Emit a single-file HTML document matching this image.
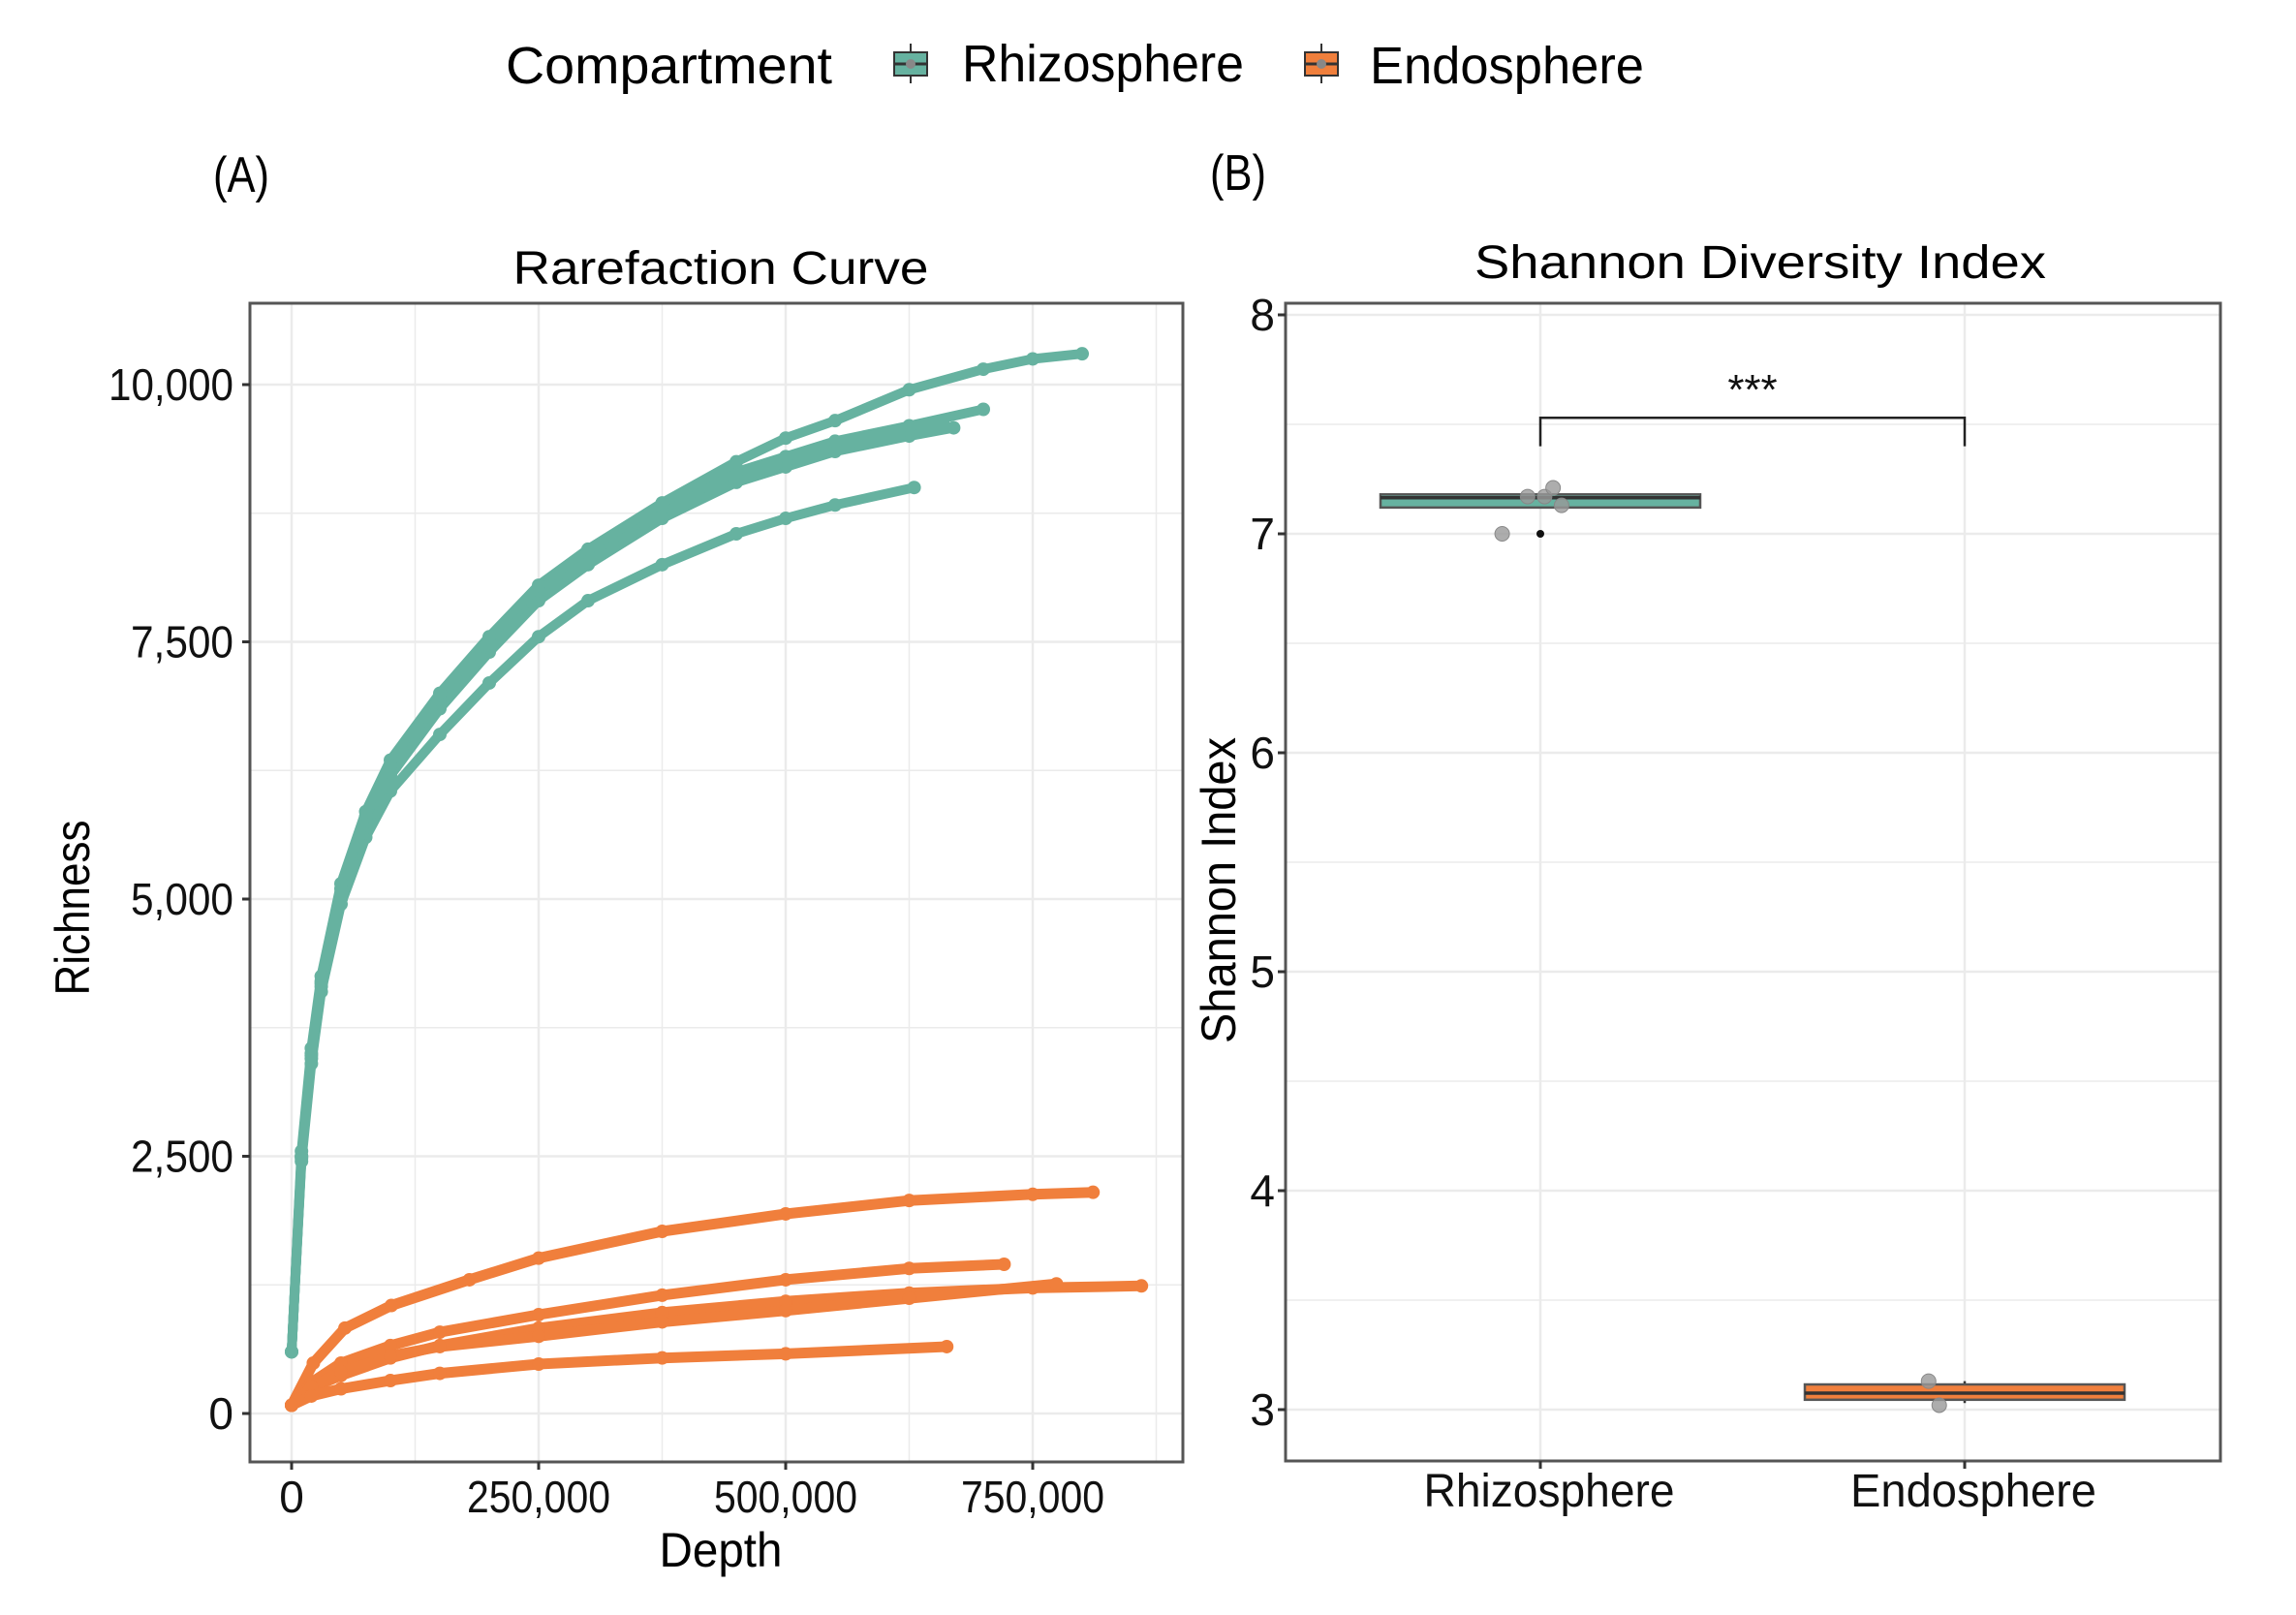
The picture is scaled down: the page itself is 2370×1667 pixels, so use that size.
<!DOCTYPE html>
<html><head><meta charset="utf-8"><style>
html,body{margin:0;padding:0;background:#fff;}
svg{display:block;font-family:"Liberation Sans",sans-serif;}
</style></head><body>
<svg id="chart" width="2370" height="1667" viewBox="0 0 2370 1667" xmlns="http://www.w3.org/2000/svg">
<g>
  <text x="522" y="86" font-size="54" textLength="337" lengthAdjust="spacingAndGlyphs">Compartment</text>
  <g>
    <line x1="940" y1="45" x2="940" y2="86" stroke="#333" stroke-width="2"/>
    <rect x="923" y="54" width="34" height="24" fill="#66b2a0" stroke="#333" stroke-width="2"/>
    <line x1="923" y1="66" x2="957" y2="66" stroke="#333" stroke-width="3"/>
    <circle cx="940" cy="66" r="5" fill="#888"/>
  </g>
  <text x="993" y="84" font-size="54" textLength="291" lengthAdjust="spacingAndGlyphs">Rhizosphere</text>
  <g>
    <line x1="1364" y1="45" x2="1364" y2="86" stroke="#333" stroke-width="2"/>
    <rect x="1347" y="54" width="34" height="24" fill="#f07f3c" stroke="#333" stroke-width="2"/>
    <line x1="1347" y1="66" x2="1381" y2="66" stroke="#333" stroke-width="3"/>
    <circle cx="1364" cy="66" r="5" fill="#888"/>
  </g>
  <text x="1414" y="86" font-size="54" textLength="283" lengthAdjust="spacingAndGlyphs">Endosphere</text>
</g>
<text x="220" y="198" font-size="52" textLength="58" lengthAdjust="spacingAndGlyphs">(A)</text>
<text x="1249" y="196" font-size="52" textLength="58" lengthAdjust="spacingAndGlyphs">(B)</text>
<text x="744" y="293" font-size="48" text-anchor="middle" textLength="429" lengthAdjust="spacingAndGlyphs">Rarefaction Curve</text>
<text x="1817" y="287" font-size="48" text-anchor="middle" textLength="590" lengthAdjust="spacingAndGlyphs">Shannon Diversity Index</text>
<g id="panelA"></g>
<g id="panelB"></g>
</svg>
<script>
// ---------- Panel A data ----------
const xTicksA = [0, 250000, 500000, 750000];
const xTickLabelsA = ["0", "250,000", "500,000", "750,000"];
const yTicksA = [0, 2500, 5000, 7500, 10000];
const yTickLabelsA = ["0", "2,500", "5,000", "7,500", "10,000"];
const rhizoDepth1 = [0,10000,20000,30000,50000,75000,100000,150000,200000,250000,300000,375000,450000,500000,550000,625000,700000,750000,800000];
const rhizoRich1  = [600,2550,3550,4250,5150,5850,6350,7000,7550,8050,8400,8850,9250,9480,9650,9950,10150,10250,10300];
const rhizoDepth2 = [0,10000,20000,30000,50000,75000,100000,150000,200000,250000,300000,375000,450000,500000,550000,625000,700000];
const rhizoRich2  = [600,2500,3500,4200,5100,5800,6300,6950,7500,8000,8350,8800,9150,9300,9450,9600,9760];
const rhizoDepth3 = [0,10000,20000,30000,50000,75000,100000,150000,200000,250000,300000,375000,450000,500000,550000,625000,660000];
const rhizoRich3  = [600,2500,3480,4180,5050,5750,6250,6900,7450,7950,8300,8750,9100,9250,9400,9550,9600];
const rhizoDepth4 = [0,10000,20000,30000,50000,75000,100000,150000,200000,250000,300000,375000,450000,500000,550000,625000,670000];
const rhizoRich4  = [600,2480,3450,4150,5000,5700,6200,6850,7400,7900,8250,8700,9050,9200,9350,9500,9580];
const rhizoDepth5 = [0,10000,20000,30000,50000,75000,100000,150000,200000,250000,300000,375000,450000,500000,550000,630000];
const rhizoRich5  = [600,2450,3400,4100,4950,5600,6050,6600,7100,7550,7900,8250,8550,8700,8830,9000];
const endoDepth1 = [0,22000,54000,101000,180000,250000,375000,500000,625000,750000,811000];
const endoRich1  = [80,490,830,1050,1300,1510,1770,1940,2070,2130,2150];
const endoDepth2 = [0,20000,50000,100000,150000,250000,375000,500000,625000,721000];
const endoRich2  = [80,300,490,660,790,960,1150,1300,1410,1450];
const endoDepth3 = [0,20000,50000,100000,150000,250000,375000,500000,625000,750000,860000];
const endoRich3  = [80,250,370,540,660,830,980,1090,1170,1220,1240];
const endoDepth4 = [0,20000,50000,100000,150000,250000,375000,500000,625000,774000];
const endoRich4  = [80,260,400,560,650,750,890,1000,1120,1260];
const endoDepth5 = [0,20000,50000,100000,150000,250000,375000,500000,663000];
const endoRich5  = [80,170,240,320,390,480,540,580,650];

// ---------- Panel B data ----------
const categoriesB = ["Rhizosphere", "Endosphere"];
const yTicksB = [3, 4, 5, 6, 7, 8];
const boxLower = [7.12, 3.045];
const boxMedian = [7.165, 3.075];
const boxUpper = [7.18, 3.115];
const whiskerLow = [7.12, 3.03];
const whiskerHigh = [7.18, 3.13];
const pointsCat = [0, 0, 0, 0, 0, 1, 1];
const pointsOffset = [-0.09, -0.03, 0.01, 0.03, 0.05, -0.085, -0.06];
const pointsVal = [7.0, 7.17, 7.17, 7.21, 7.13, 3.13, 3.02];
const outlierCat = [0];
const outlierVal = [7.0];
const bracketY = 7.53;
const bracketLegY = 7.40;

const NS = "http://www.w3.org/2000/svg";
function mk(tag, attrs, parent, text) {
  const e = document.createElementNS(NS, tag);
  for (const k in attrs) e.setAttribute(k, attrs[k]);
  if (text !== undefined) e.textContent = text;
  parent.appendChild(e);
  return e;
}
const GREEN = "#66b2a0", ORANGE = "#f07f3c";

// ---------- Panel A ----------
(function () {
  const g = document.getElementById("panelA");
  const L = 258, T = 313, R = 1221, B = 1509;
  const xA = v => 301 + v * (765 / 750000);
  const yA = v => 1459 - v * (1062 / 10000);
  const bg = mk("rect", { x: L, y: T, width: R - L, height: B - T, fill: "#fff" }, g);
  
  
  const grid = mk("g", { stroke: "#ebebeb" }, g);
  
  
  for (let i = 0; i < xTicksA.length; i++) {
    mk("line", { x1: xA(xTicksA[i]), x2: xA(xTicksA[i]), y1: T, y2: B, "stroke-width": 2.5 }, grid);
    const m = xTicksA[i] + 125000;
    if (xA(m) < R) mk("line", { x1: xA(m), x2: xA(m), y1: T, y2: B, "stroke-width": 1.5 }, grid);
  }
  for (let i = 0; i < yTicksA.length; i++) {
    mk("line", { x1: L, x2: R, y1: yA(yTicksA[i]), y2: yA(yTicksA[i]), "stroke-width": 2.5 }, grid);
    const m = yTicksA[i] + 1250;
    if (yA(m) > T) mk("line", { x1: L, x2: R, y1: yA(m), y2: yA(m), "stroke-width": 1.5 }, grid);
  }
  const series = [
    [endoDepth1, endoRich1, ORANGE, 'endosphere-curve-1'],
    [endoDepth2, endoRich2, ORANGE, 'endosphere-curve-2'],
    [endoDepth3, endoRich3, ORANGE, 'endosphere-curve-3'],
    [endoDepth4, endoRich4, ORANGE, 'endosphere-curve-4'],
    [endoDepth5, endoRich5, ORANGE, 'endosphere-curve-5'],
    [rhizoDepth5, rhizoRich5, GREEN, 'rhizosphere-curve-5'],
    [rhizoDepth4, rhizoRich4, GREEN, 'rhizosphere-curve-4'],
    [rhizoDepth3, rhizoRich3, GREEN, 'rhizosphere-curve-3'],
    [rhizoDepth2, rhizoRich2, GREEN, 'rhizosphere-curve-2'],
    [rhizoDepth1, rhizoRich1, GREEN, 'rhizosphere-curve-1']
  ];
  series.forEach(s => {
    const [xs, ys, col, name] = s;
    const sg = mk("g", {}, g);
    
    
    let d = "";
    for (let i = 0; i < xs.length; i++) d += (i ? "L" : "M") + xA(xs[i]).toFixed(1) + "," + yA(ys[i]).toFixed(1);
    const w = col === GREEN ? 10 : 11;
    mk("path", { d: d, fill: "none", stroke: col, "stroke-width": w, "stroke-linecap": "round", "stroke-linejoin": "round" }, sg);
    for (let i = 0; i < xs.length; i++) {
      const c = mk("circle", { cx: xA(xs[i]), cy: yA(ys[i]), r: 7, fill: col }, sg);
      
      
    }
  });
  const frame = mk("rect", { x: L, y: T, width: R - L, height: B - T, fill: "none", stroke: "#555", "stroke-width": 3 }, g);
  
  
  const ax = mk("g", { "font-size": 46, fill: "#111" }, g);
  
  
  for (let i = 0; i < xTicksA.length; i++) {
    mk("line", { x1: xA(xTicksA[i]), x2: xA(xTicksA[i]), y1: B, y2: B + 8, stroke: "#333", "stroke-width": 3 }, ax);
    const attrs = { x: xA(xTicksA[i]), y: 1561, "text-anchor": "middle" };
    if (xTickLabelsA[i].length > 1) { attrs.textLength = 148; attrs.lengthAdjust = "spacingAndGlyphs"; }
    const t = mk("text", attrs, ax, xTickLabelsA[i]);
    
    
  }
  const ay = mk("g", { "font-size": 46, fill: "#111" }, g);
  
  
  for (let i = 0; i < yTicksA.length; i++) {
    mk("line", { x1: L - 8, x2: L, y1: yA(yTicksA[i]), y2: yA(yTicksA[i]), stroke: "#333", "stroke-width": 3 }, ay);
    const lab = yTickLabelsA[i];
    const attrs = { x: 241, y: yA(yTicksA[i]) + 16, "text-anchor": "end" };
    if (lab.length > 1) { attrs.textLength = lab.length > 5 ? 129 : 106; attrs.lengthAdjust = "spacingAndGlyphs"; }
    const t = mk("text", attrs, ay, lab);
    
    
  }
  const xt = mk("text", { x: 744, y: 1617, "font-size": 50, "text-anchor": "middle", textLength: 127, lengthAdjust: "spacingAndGlyphs" }, g, "Depth");
  
  
  const yt = mk("text", { x: 0, y: 0, "font-size": 50, "text-anchor": "middle", textLength: 181, lengthAdjust: "spacingAndGlyphs", transform: "translate(92,937) rotate(-90)" }, g, "Richness");
  
  
})();

// ---------- Panel B ----------
(function () {
  const g = document.getElementById("panelB");
  const L = 1327, T = 313, R = 2292, B = 1508;
  const yB = v => 1455 - (v - 3) * 226;
  const xB = i => 1590 + i * 438;
  const halfW = 165;
  const grid = mk("g", { stroke: "#ebebeb" }, g);
  
  
  for (let i = 0; i < categoriesB.length; i++) mk("line", { x1: xB(i), x2: xB(i), y1: T, y2: B, "stroke-width": 2.5 }, grid);
  for (let i = 0; i < yTicksB.length; i++) {
    mk("line", { x1: L, x2: R, y1: yB(yTicksB[i]), y2: yB(yTicksB[i]), "stroke-width": 2.5 }, grid);
    if (yTicksB[i] + 0.5 <= 8) mk("line", { x1: L, x2: R, y1: yB(yTicksB[i] + 0.5), y2: yB(yTicksB[i] + 0.5), "stroke-width": 1.5 }, grid);
  }
  const cols = [GREEN, ORANGE];
  for (let i = 0; i < categoriesB.length; i++) {
    const bx = mk("g", {}, g);
    
    
    mk("line", { x1: xB(i), x2: xB(i), y1: yB(whiskerHigh[i]), y2: yB(whiskerLow[i]), stroke: "#333", "stroke-width": 2.5 }, bx);
    mk("rect", { x: xB(i) - halfW, y: yB(boxUpper[i]), width: 2 * halfW, height: Math.max(2, yB(boxLower[i]) - yB(boxUpper[i])), fill: cols[i], stroke: "#555", "stroke-width": 2.5 }, bx);
    mk("line", { x1: xB(i) - halfW, x2: xB(i) + halfW, y1: yB(boxMedian[i]), y2: yB(boxMedian[i]), stroke: "#333", "stroke-width": 3.5 }, bx);
  }
  for (let i = 0; i < pointsVal.length; i++) {
    const c = mk("circle", { cx: xB(pointsCat[i]) + pointsOffset[i] * 438, cy: yB(pointsVal[i]), r: 7.5, fill: "#999", "fill-opacity": 0.8, stroke: "#888", "stroke-width": 1 }, g);
    
    
  }
  for (let i = 0; i < outlierVal.length; i++) {
    const c = mk("circle", { cx: xB(outlierCat[i]), cy: yB(outlierVal[i]), r: 4, fill: "#111" }, g);
    
    
  }
  const br = mk("path", { d: `M${xB(0)},${yB(bracketLegY)}V${yB(bracketY)}H${xB(1)}V${yB(bracketLegY)}`, fill: "none", stroke: "#222", "stroke-width": 2.5 }, g);
  
  
  const st = mk("text", { x: (xB(0) + xB(1)) / 2, y: yB(bracketY) - 14, "font-size": 44, "text-anchor": "middle", fill: "#111" }, g, "***");
  
  
  const frame = mk("rect", { x: L, y: T, width: R - L, height: B - T, fill: "none", stroke: "#555", "stroke-width": 3 }, g);
  
  
  const ax = mk("g", { "font-size": 48, fill: "#111" }, g);
  
  
  const lens = [259, 254];
  for (let i = 0; i < categoriesB.length; i++) {
    mk("line", { x1: xB(i), x2: xB(i), y1: B, y2: B + 8, stroke: "#333", "stroke-width": 3 }, ax);
    const t = mk("text", { x: xB(i) + 9, y: 1555, "text-anchor": "middle", textLength: lens[i], lengthAdjust: "spacingAndGlyphs" }, ax, categoriesB[i]);
    
    
  }
  const ay = mk("g", { "font-size": 46, fill: "#111" }, g);
  
  
  for (let i = 0; i < yTicksB.length; i++) {
    mk("line", { x1: L - 8, x2: L, y1: yB(yTicksB[i]), y2: yB(yTicksB[i]), stroke: "#333", "stroke-width": 3 }, ay);
    const t = mk("text", { x: 1316, y: yB(yTicksB[i]) + 16, "text-anchor": "end" }, ay, String(yTicksB[i]));
    
    
  }
  const yt = mk("text", { x: 0, y: 0, "font-size": 50, "text-anchor": "middle", textLength: 316, lengthAdjust: "spacingAndGlyphs", transform: "translate(1275,919) rotate(-90)" }, g, "Shannon Index");
  
  
})();
</script>
</body></html>
